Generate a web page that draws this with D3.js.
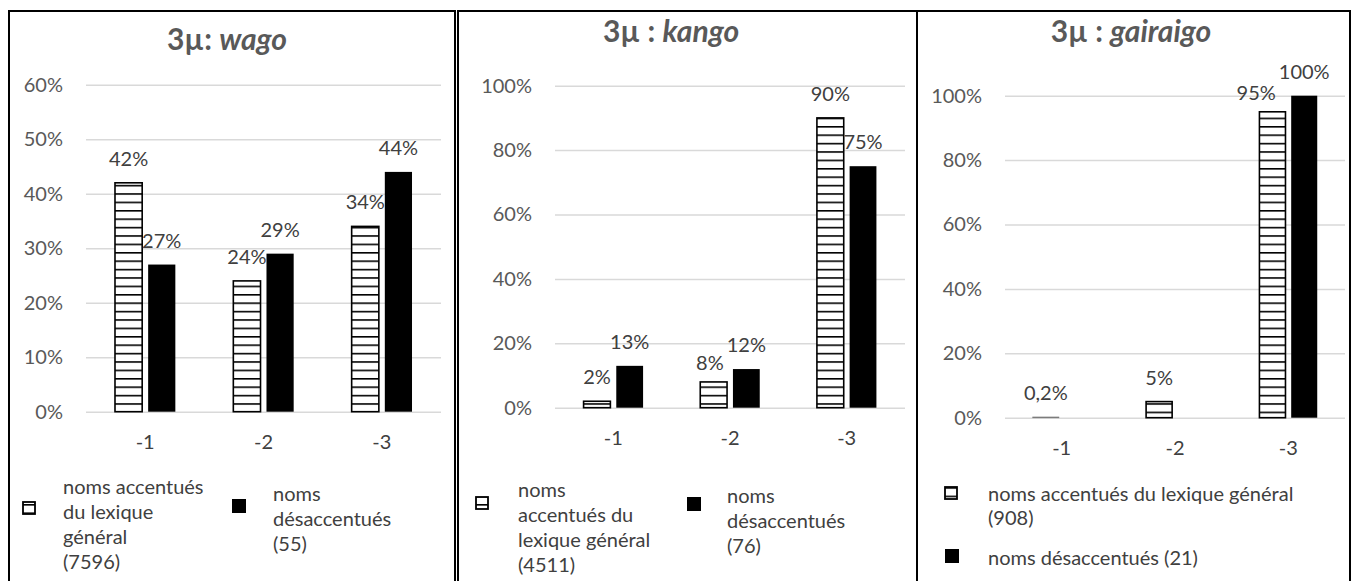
<!DOCTYPE html>
<html><head><meta charset="utf-8">
<script src="https://cdn.jsdelivr.net/npm/d3@7"></script>
<style>
html,body{margin:0;padding:0;background:#fff;}
svg{display:block;font-family:Lato,"Open Sans",sans-serif;}
</style></head>
<body>
<svg id="chart" width="1357" height="581"></svg>
<script>
// ---- data ----
const categories = ["-1", "-2", "-3"];
const seriesKeys = ["accent", "desaccent"];

const wagoAccent = [42, 24, 34];
const wagoDesaccent = [27, 29, 44];
const kangoAccent = [2, 8, 90];
const kangoDesaccent = [13, 12, 75];
const gairaigoAccent = [0.2, 5, 95];
const gairaigoDesaccent = [0, 0, 100];

const wagoLabelsAccent = ["42%", "24%", "34%"];
const wagoLabelsDesaccent = ["27%", "29%", "44%"];
const kangoLabelsAccent = ["2%", "8%", "90%"];
const kangoLabelsDesaccent = ["13%", "12%", "75%"];
const gairaigoLabelsAccent = ["0,2%", "5%", "95%"];
const gairaigoLabelsDesaccent = ["", "", "100%"];

const wagoTicks = [0, 10, 20, 30, 40, 50, 60];
const hundredTicks = [0, 20, 40, 60, 80, 100];

const titlePrefixes = ["3µ: ", "3µ : ", "3µ : "];
const titleWords = ["wago", "kango", "gairaigo"];

const legendAccent1 = ["noms accentués", "du lexique", "général", "(7596)"];
const legendDesaccent1 = ["noms", "désaccentués", "(55)"];
const legendAccent2 = ["noms", "accentués du", "lexique général", "(4511)"];
const legendDesaccent2 = ["noms", "désaccentués", "(76)"];
const legendAccent3 = ["noms accentués du lexique général", "(908)"];
const legendDesaccent3 = ["noms désaccentués (21)"];

// ---- drawing ----
const svg = d3.select("#chart");
const defs = svg.append("defs");
const pat = defs.append("pattern").attr("id", "hatch")
  .attr("patternUnits", "userSpaceOnUse").attr("width", 10).attr("height", 8.4);
pat.append("rect").attr("width", 10).attr("height", 8.4).attr("fill", "#fff");
pat.append("line").attr("x1", 0).attr("x2", 10).attr("y1", 0.8).attr("y2", 0.8)
  .attr("stroke", "#000").attr("stroke-width", 1.6);

const FS = 20;

function panel(cfg) {
  const g = svg.append("g");
  g.append("path").attr("d", cfg.border).attr("fill", "none")
    .attr("stroke", "#000").attr("stroke-width", 2);

  const t = g.append("text").attr("x", cfg.titleX).attr("y", cfg.titleY)
    .attr("text-anchor", "middle").attr("font-size", 30).attr("font-weight", "bold")
    .attr("fill", "#595959");
  t.append("tspan").text(cfg.prefix);
  t.append("tspan").attr("font-style", "italic").text(cfg.word);

  const y = d3.scaleLinear().domain([0, cfg.max]).range([cfg.y0, cfg.yTop]);
  const x0 = d3.scaleBand().domain(categories).range([cfg.xl, cfg.xr])
    .paddingInner(0.49).paddingOuter(0.245);
  const x1 = d3.scaleBand().domain(seriesKeys).range([0, x0.bandwidth()]).paddingInner(0.18);

  const yAxis = d3.axisLeft(y).tickValues(cfg.ticks).tickSize(-(cfg.xr - cfg.xl))
    .tickPadding(23).tickFormat(d => d + "%");
  const ag = g.append("g").attr("transform", `translate(${cfg.xl},0)`).call(yAxis);
  ag.select(".domain").remove();
  ag.selectAll(".tick line").attr("stroke", "#d9d9d9").attr("stroke-width", 1.5);
  ag.selectAll(".tick text").attr("font-size", FS).attr("fill", "#595959")
    .attr("font-family", "Lato,'Open Sans',sans-serif");

  const xAxis = d3.axisBottom(x0).tickSize(0).tickPadding(0);
  const xg = g.append("g").attr("transform", `translate(0,${cfg.y0 + 23})`).call(xAxis);
  xg.select(".domain").remove();
  xg.selectAll(".tick text").attr("font-size", FS).attr("fill", "#404040")
    .attr("font-family", "Lato,'Open Sans',sans-serif").attr("dy", "0.71em");

  const rows = categories.map((c, i) => ({
    cat: c,
    vals: [
      {key: "accent", v: cfg.accent[i], lab: cfg.labA[i]},
      {key: "desaccent", v: cfg.desaccent[i], lab: cfg.labD[i]}
    ]
  }));
  const grp = g.selectAll(".grp").data(rows).join("g")
    .attr("transform", d => `translate(${x0(d.cat)},0)`);
  grp.selectAll("rect").data(d => d.vals.filter(v => v.v > 0)).join("rect")
    .attr("x", d => x1(d.key)).attr("width", x1.bandwidth())
    .attr("y", d => y(d.v)).attr("height", d => cfg.y0 - y(d.v))
    .attr("fill", d => d.key === "accent" ? "url(#hatch)" : "#000")
    .attr("stroke", d => d.key === "accent" ? "#000" : "none")
    .attr("stroke-width", d => d.v < 1 ? 0.8 : 1.6)
    .attr("stroke-opacity", d => d.v < 1 ? 0.5 : 1);
  grp.each(function() {
    const labs = d3.select(this).selectAll("text.lab").data(d => d.vals.filter(v => v.lab)).join("text")
      .attr("class", "lab")
      .attr("x", d => x1(d.key) + x1.bandwidth() / 2)
      .attr("y", d => y(d.v) - 17)
      .attr("text-anchor", "middle").attr("font-size", FS).attr("fill", "#404040")
      .text(d => d.lab);
    // simple collision avoidance: shift the left label leftwards (and a bit down)
    const nodes = labs.nodes();
    if (nodes.length === 2) {
      const a = nodes[0].getBBox(), b = nodes[1].getBBox();
      const overlapX = (a.x + a.width) - b.x;
      const overlapY = Math.min(a.y + a.height, b.y + b.height) - Math.max(a.y, b.y);
      if (overlapX > -2 && overlapY > -2) {
        const ax = +nodes[0].getAttribute("x");
        nodes[0].setAttribute("x", ax - overlapX - 3);
        nodes[0].setAttribute("y", +nodes[0].getAttribute("y") + 5);
      }
    }
  });

  cfg.legend.forEach(L => {
    if (L.key === "accent") {
      g.append("rect").attr("x", L.ix).attr("y", L.iy).attr("width", 12).attr("height", 12)
        .attr("fill", "url(#hatch)").attr("stroke", "#000").attr("stroke-width", 1.8);
    } else {
      g.append("rect").attr("x", L.ix).attr("y", L.iy).attr("width", 14).attr("height", 14)
        .attr("fill", "#000");
    }
    const tx = g.append("text").attr("x", L.tx).attr("font-size", FS).attr("fill", "#404040");
    L.lines.forEach((ln, i) => {
      tx.append("tspan").attr("x", L.tx).attr("y", L.ty + i * L.lh).text(ln);
    });
  });
}

panel({
  border: "M9,585 V11 H455 V585",
  titleX: 227, titleY: 50, prefix: titlePrefixes[0], word: titleWords[0],
  max: 60, ticks: wagoTicks, y0: 411.7, yTop: 84.7, xl: 86, xr: 441,
  accent: wagoAccent, desaccent: wagoDesaccent, labA: wagoLabelsAccent, labD: wagoLabelsDesaccent,
  legend: [
    {key: "accent", ix: 23, iy: 502, tx: 63, ty: 494, lh: 25, lines: legendAccent1},
    {key: "desaccent", ix: 232, iy: 499, tx: 273, ty: 501, lh: 25, lines: legendDesaccent1}
  ]
});
panel({
  border: "M458,585 V11 H917",
  titleX: 671, titleY: 42, prefix: titlePrefixes[1], word: titleWords[1],
  max: 100, ticks: hundredTicks, y0: 407.7, yTop: 85.7, xl: 555, xr: 905,
  accent: kangoAccent, desaccent: kangoDesaccent, labA: kangoLabelsAccent, labD: kangoLabelsDesaccent,
  legend: [
    {key: "accent", ix: 476, iy: 497, tx: 518, ty: 497, lh: 25, lines: legendAccent2},
    {key: "desaccent", ix: 687, iy: 497, tx: 727, ty: 503, lh: 25, lines: legendDesaccent2}
  ]
});
panel({
  border: "M917,585 V11 H1350 V585",
  titleX: 1131, titleY: 42, prefix: titlePrefixes[2], word: titleWords[2],
  max: 100, ticks: hundredTicks, y0: 417.7, yTop: 95.7, xl: 1005, xr: 1345,
  accent: gairaigoAccent, desaccent: gairaigoDesaccent, labA: gairaigoLabelsAccent, labD: gairaigoLabelsDesaccent,
  legend: [
    {key: "accent", ix: 945, iy: 487, tx: 988, ty: 501, lh: 24, lines: legendAccent3},
    {key: "desaccent", ix: 945, iy: 549, tx: 988, ty: 565, lh: 24, lines: legendDesaccent3}
  ]
});
</script>
</body></html>
